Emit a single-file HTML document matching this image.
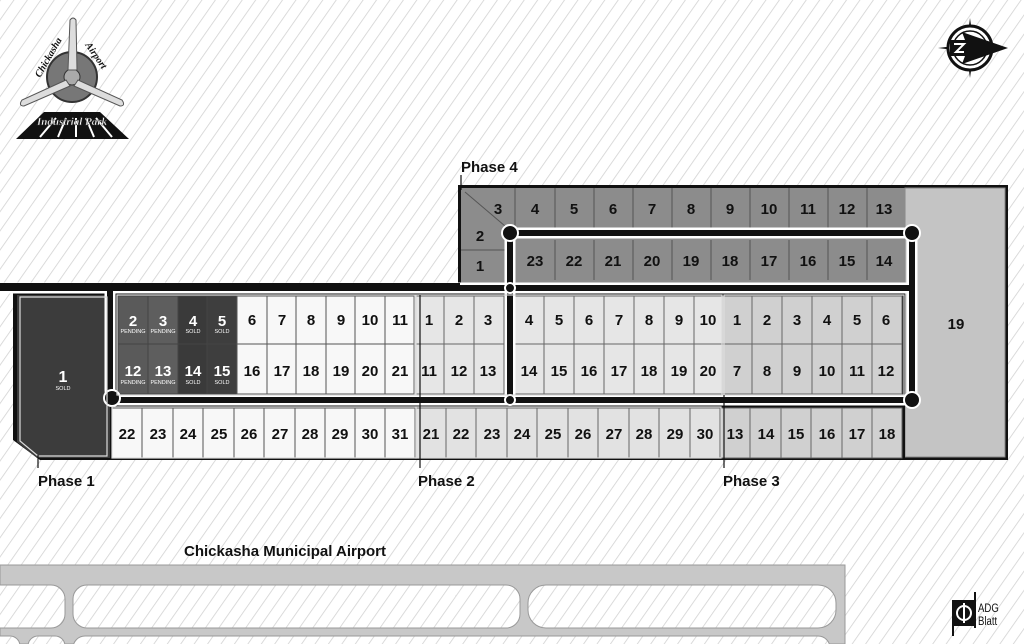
<!DOCTYPE html>
<html><head><meta charset="utf-8"><style>
html,body{margin:0;padding:0;background:#fff;}
svg{display:block;font-family:"Liberation Sans",Arial,sans-serif;}
</style></head><body>
<svg width="1024" height="644" viewBox="0 0 1024 644" xmlns="http://www.w3.org/2000/svg">
<defs>
<pattern id="h" width="11" height="11" patternUnits="userSpaceOnUse" patternTransform="rotate(35)">
<rect width="11" height="11" fill="#fff"/>
<line x1="0" y1="0" x2="0" y2="11" stroke="#d2d2d2" stroke-width="1.6"/>
</pattern>
</defs>
<rect width="1024" height="644" fill="url(#h)"/>

<!-- Airport bottom -->
<path d="M0 565 H845 V644 H0 Z" fill="#c8c8c8" stroke="#999" stroke-width="1"/>
<rect x="-20" y="585" width="85" height="43" rx="14" fill="url(#h)" stroke="#999"/>
<rect x="73" y="585" width="447" height="43" rx="14" fill="url(#h)" stroke="#999"/>
<rect x="528" y="585" width="308" height="43" rx="18" fill="url(#h)" stroke="#999"/>
<rect x="-20" y="636" width="40" height="30" rx="10" fill="url(#h)" stroke="#999"/>
<rect x="28" y="636" width="37" height="30" rx="10" fill="url(#h)" stroke="#999"/>
<rect x="73" y="636" width="757" height="30" rx="12" fill="url(#h)" stroke="#999"/>
<text x="184" y="556" font-size="15" font-weight="bold" fill="#111">Chickasha Municipal Airport</text>

<!-- Phase 4 block -->
<rect x="458" y="185" width="550" height="275" fill="#111"/>
<rect x="905" y="188" width="100" height="269" fill="#c4c4c4" stroke="#888"/>
<rect x="461" y="188" width="444" height="95" fill="#8c8c8c"/>
<g stroke="#555" stroke-width="1" fill="none">
<line x1="515" y1="188" x2="515" y2="228"/>
<line x1="461" y1="250" x2="505" y2="250"/>
<line x1="465" y1="192" x2="505" y2="226"/>
</g>
<g font-size="15" font-weight="bold" fill="#111" text-anchor="middle">
<text x="498" y="214">3</text><text x="480" y="241">2</text><text x="480" y="271">1</text>
</g>
<g stroke="#555" fill="none">
<line x1="555" y1="188" x2="555" y2="228"/><line x1="594" y1="188" x2="594" y2="228"/><line x1="633" y1="188" x2="633" y2="228"/>
<line x1="672" y1="188" x2="672" y2="228"/><line x1="711" y1="188" x2="711" y2="228"/><line x1="750" y1="188" x2="750" y2="228"/>
<line x1="789" y1="188" x2="789" y2="228"/><line x1="828" y1="188" x2="828" y2="228"/><line x1="867" y1="188" x2="867" y2="228"/>
<line x1="555" y1="240" x2="555" y2="280"/><line x1="594" y1="240" x2="594" y2="280"/><line x1="633" y1="240" x2="633" y2="280"/>
<line x1="672" y1="240" x2="672" y2="280"/><line x1="711" y1="240" x2="711" y2="280"/><line x1="750" y1="240" x2="750" y2="280"/>
<line x1="789" y1="240" x2="789" y2="280"/><line x1="828" y1="240" x2="828" y2="280"/><line x1="867" y1="240" x2="867" y2="280"/>
</g>
<g font-size="15" font-weight="bold" fill="#111" text-anchor="middle">
<text x="535" y="214">4</text><text x="574" y="214">5</text><text x="613" y="214">6</text><text x="652" y="214">7</text><text x="691" y="214">8</text><text x="730" y="214">9</text><text x="769" y="214">10</text><text x="808" y="214">11</text><text x="847" y="214">12</text><text x="884" y="214">13</text>
<text x="535" y="266">23</text><text x="574" y="266">22</text><text x="613" y="266">21</text><text x="652" y="266">20</text><text x="691" y="266">19</text><text x="730" y="266">18</text><text x="769" y="266">17</text><text x="808" y="266">16</text><text x="847" y="266">15</text><text x="884" y="266">14</text>
<text x="956" y="329">19</text>
</g>

<!-- Main block background -->
<path d="M13 290 H905 V460 H40 L13 440 Z" fill="#111"/>
<path d="M17 295 H110 V458 H37 L17 442 Z" fill="#3c3c3c"/>
<g stroke="#444" stroke-width="1">
<rect x="118" y="296" width="30" height="48" fill="#5a5a5a"/><rect x="148" y="296" width="30" height="48" fill="#5e5e5e"/>
<rect x="178" y="296" width="29" height="48" fill="#3a3a3a"/><rect x="207" y="296" width="30" height="48" fill="#3e3e3e"/>
<rect x="118" y="344" width="30" height="50" fill="#5a5a5a"/><rect x="148" y="344" width="30" height="50" fill="#5e5e5e"/>
<rect x="178" y="344" width="29" height="50" fill="#3a3a3a"/><rect x="207" y="344" width="30" height="50" fill="#3e3e3e"/>
</g>
<g stroke="#555" stroke-width="1" fill="#f8f8f8">
<rect x="237" y="296" width="30" height="48"/><rect x="267" y="296" width="29" height="48"/><rect x="296" y="296" width="30" height="48"/><rect x="326" y="296" width="29" height="48"/><rect x="355" y="296" width="30" height="48"/><rect x="385" y="296" width="29" height="48"/>
<rect x="237" y="344" width="30" height="50"/><rect x="267" y="344" width="29" height="50"/><rect x="296" y="344" width="30" height="50"/><rect x="326" y="344" width="29" height="50"/><rect x="355" y="344" width="30" height="50"/><rect x="385" y="344" width="29" height="50"/>
</g>
<g stroke="#666" stroke-width="1" fill="#e6e6e6">
<rect x="414" y="296" width="30" height="48"/><rect x="444" y="296" width="30" height="48"/><rect x="474" y="296" width="30" height="48"/>
<rect x="414" y="344" width="30" height="50"/><rect x="444" y="344" width="30" height="50"/><rect x="474" y="344" width="30" height="50"/>
<rect x="514" y="296" width="30" height="48"/><rect x="544" y="296" width="30" height="48"/><rect x="574" y="296" width="30" height="48"/><rect x="604" y="296" width="30" height="48"/><rect x="634" y="296" width="30" height="48"/><rect x="664" y="296" width="30" height="48"/><rect x="694" y="296" width="28" height="48"/>
<rect x="514" y="344" width="30" height="50"/><rect x="544" y="344" width="30" height="50"/><rect x="574" y="344" width="30" height="50"/><rect x="604" y="344" width="30" height="50"/><rect x="634" y="344" width="30" height="50"/><rect x="664" y="344" width="30" height="50"/><rect x="694" y="344" width="28" height="50"/>
</g>
<g stroke="#666" stroke-width="1" fill="#d0d0d0">
<rect x="722" y="296" width="30" height="48"/><rect x="752" y="296" width="30" height="48"/><rect x="782" y="296" width="30" height="48"/><rect x="812" y="296" width="30" height="48"/><rect x="842" y="296" width="30" height="48"/><rect x="872" y="296" width="30" height="48"/>
<rect x="722" y="344" width="30" height="50"/><rect x="752" y="344" width="30" height="50"/><rect x="782" y="344" width="30" height="50"/><rect x="812" y="344" width="30" height="50"/><rect x="842" y="344" width="30" height="50"/><rect x="872" y="344" width="30" height="50"/>
</g>
<g stroke="#555" stroke-width="1" fill="#f8f8f8">
<rect x="112" y="408" width="30" height="50"/><rect x="142" y="408" width="31" height="50"/><rect x="173" y="408" width="30" height="50"/><rect x="203" y="408" width="31" height="50"/><rect x="234" y="408" width="30" height="50"/><rect x="264" y="408" width="31" height="50"/><rect x="295" y="408" width="30" height="50"/><rect x="325" y="408" width="30" height="50"/><rect x="355" y="408" width="30" height="50"/><rect x="385" y="408" width="30" height="50"/>
</g>
<g stroke="#666" stroke-width="1" fill="#e2e2e2">
<rect x="415" y="408" width="31" height="50"/><rect x="446" y="408" width="30" height="50"/><rect x="476" y="408" width="31" height="50"/><rect x="507" y="408" width="30" height="50"/><rect x="537" y="408" width="31" height="50"/><rect x="568" y="408" width="30" height="50"/><rect x="598" y="408" width="31" height="50"/><rect x="629" y="408" width="30" height="50"/><rect x="659" y="408" width="31" height="50"/><rect x="690" y="408" width="30" height="50"/>
</g>
<g stroke="#666" stroke-width="1" fill="#d0d0d0">
<rect x="720" y="408" width="30" height="50"/><rect x="750" y="408" width="31" height="50"/><rect x="781" y="408" width="30" height="50"/><rect x="811" y="408" width="31" height="50"/><rect x="842" y="408" width="30" height="50"/><rect x="872" y="408" width="30" height="50"/>
</g>

<!-- roads -->
<g fill="none" stroke-linecap="round" stroke-linejoin="round">
<path d="M0 288 H912 M510 233 H912 V400 H120 Q110 400 110 390 V288 M510 233 V400" stroke="#fff" stroke-width="11"/>
<path d="M0 288 H912 M510 233 H912 V400 H120 Q110 400 110 390 V288 M510 233 V400" stroke="#111" stroke-width="6"/>
</g>
<g fill="#111" stroke="#fff" stroke-width="2">
<circle cx="510" cy="233" r="8"/><circle cx="912" cy="233" r="8"/><circle cx="912" cy="400" r="8"/><circle cx="510" cy="400" r="5"/><circle cx="510" cy="288" r="5"/><circle cx="112" cy="398" r="8"/>
</g>
<rect x="0" y="283" width="460" height="3" fill="#111"/>

<g fill="none" stroke="#ddd" stroke-width="1.2">
<path d="M20 297 H107 V456 H38 L20 441 Z"/>
<rect x="117" y="295" width="298" height="100"/>
<rect x="416" y="295" width="306" height="100"/>
<rect x="724" y="295" width="180" height="100"/>
<rect x="112" y="407" width="304" height="51"/>
<rect x="416" y="407" width="305" height="51"/>
</g>

<g font-size="15" font-weight="bold" text-anchor="middle" fill="#fff">
<text x="63" y="382" font-size="16">1</text>
<text x="133" y="326">2</text><text x="163" y="326">3</text><text x="193" y="326">4</text><text x="222" y="326">5</text>
<text x="133" y="376">12</text><text x="163" y="376">13</text><text x="193" y="376">14</text><text x="222" y="376">15</text>
</g>
<g font-size="5.5" text-anchor="middle" fill="#fff">
<text x="63" y="390">SOLD</text>
<text x="133" y="333">PENDING</text><text x="163" y="333">PENDING</text><text x="193" y="333">SOLD</text><text x="222" y="333">SOLD</text>
<text x="133" y="384">PENDING</text><text x="163" y="384">PENDING</text><text x="193" y="384">SOLD</text><text x="222" y="384">SOLD</text>
</g>
<g font-size="15" font-weight="bold" text-anchor="middle" fill="#111">
<text x="252" y="325">6</text><text x="282" y="325">7</text><text x="311" y="325">8</text><text x="341" y="325">9</text><text x="370" y="325">10</text><text x="400" y="325">11</text>
<text x="252" y="376">16</text><text x="282" y="376">17</text><text x="311" y="376">18</text><text x="341" y="376">19</text><text x="370" y="376">20</text><text x="400" y="376">21</text>
<text x="429" y="325">1</text><text x="459" y="325">2</text><text x="488" y="325">3</text>
<text x="429" y="376">11</text><text x="459" y="376">12</text><text x="488" y="376">13</text>
<text x="529" y="325">4</text><text x="559" y="325">5</text><text x="589" y="325">6</text><text x="619" y="325">7</text><text x="649" y="325">8</text><text x="679" y="325">9</text><text x="708" y="325">10</text>
<text x="529" y="376">14</text><text x="559" y="376">15</text><text x="589" y="376">16</text><text x="619" y="376">17</text><text x="649" y="376">18</text><text x="679" y="376">19</text><text x="708" y="376">20</text>
<text x="737" y="325">1</text><text x="767" y="325">2</text><text x="797" y="325">3</text><text x="827" y="325">4</text><text x="857" y="325">5</text><text x="886" y="325">6</text>
<text x="737" y="376">7</text><text x="767" y="376">8</text><text x="797" y="376">9</text><text x="827" y="376">10</text><text x="857" y="376">11</text><text x="886" y="376">12</text>
<text x="127" y="439">22</text><text x="158" y="439">23</text><text x="188" y="439">24</text><text x="219" y="439">25</text><text x="249" y="439">26</text><text x="280" y="439">27</text><text x="310" y="439">28</text><text x="340" y="439">29</text><text x="370" y="439">30</text><text x="400" y="439">31</text>
<text x="431" y="439">21</text><text x="461" y="439">22</text><text x="492" y="439">23</text><text x="522" y="439">24</text><text x="553" y="439">25</text><text x="583" y="439">26</text><text x="614" y="439">27</text><text x="644" y="439">28</text><text x="675" y="439">29</text><text x="705" y="439">30</text>
<text x="735" y="439">13</text><text x="766" y="439">14</text><text x="796" y="439">15</text><text x="827" y="439">16</text><text x="857" y="439">17</text><text x="887" y="439">18</text>
</g>

<g stroke="#111" stroke-width="1.2">
<line x1="38" y1="455" x2="38" y2="468"/><line x1="420" y1="295" x2="420" y2="468"/><line x1="724" y1="395" x2="724" y2="468"/><line x1="461" y1="175" x2="461" y2="190"/>
</g>
<g font-size="15" font-weight="bold" fill="#111">
<text x="38" y="486">Phase 1</text><text x="418" y="486">Phase 2</text><text x="723" y="486">Phase 3</text><text x="461" y="172">Phase 4</text>
</g>

<!-- logo top-left -->
<g>
<path d="M16 139 L44 112 H100 L129 139 Z" fill="#111"/>
<g stroke="#fff" stroke-width="2"><line x1="56" y1="118" x2="40" y2="137"/><line x1="66" y1="118" x2="58" y2="137"/><line x1="76" y1="118" x2="76" y2="137"/><line x1="86" y1="118" x2="94" y2="137"/><line x1="96" y1="118" x2="112" y2="137"/></g>
<text x="72" y="125" font-size="11" font-style="italic" font-weight="bold" fill="#fff" stroke="#333" stroke-width="0.4" text-anchor="middle" font-family="Liberation Serif,serif">Industrial Park</text>
<circle cx="72" cy="77" r="25" fill="#777" stroke="#333" stroke-width="2"/>
<circle cx="72" cy="77" r="8" fill="#aaa" stroke="#333"/>
<path d="M68 70 L70 20 Q73 16 76 20 L77 70 Z" fill="#ddd" stroke="#555"/>
<path d="M66 80 L22 100 Q18 106 24 106 L70 86 Z" fill="#ddd" stroke="#555"/>
<path d="M78 80 L122 100 Q126 106 120 106 L74 86 Z" fill="#ddd" stroke="#555"/>
<text x="40" y="78" font-size="10" font-style="italic" font-weight="bold" fill="#111" transform="rotate(-60 40 78)" font-family="Liberation Serif,serif">Chickasha</text>
<text x="85" y="45" font-size="10" font-style="italic" font-weight="bold" fill="#111" transform="rotate(55 85 45)" font-family="Liberation Serif,serif">Airport</text>
</g>

<!-- compass -->
<g transform="translate(970,48)">
<path d="M0 -30 L3 -8 L0 0 L-3 -8 Z M0 30 L3 8 L0 0 L-3 8 Z M-32 0 L-8 -3 L0 0 L-8 3 Z" fill="#111"/>
<circle r="22" fill="#fff" stroke="#111" stroke-width="3"/>
<circle r="17" fill="none" stroke="#111" stroke-width="1.5"/>
<path d="M-20 -8 H-5 L-8 -16 L38 0 L-8 16 L-5 8 H-20 Z" fill="#111"/>
<path d="M-16 -4 H-6 L-14 4 H-6" fill="none" stroke="#fff" stroke-width="2"/>
</g>

<!-- ADG Blatt -->
<g>
<rect x="953" y="600" width="22" height="26" fill="#111"/>
<circle cx="964" cy="613" r="7" fill="none" stroke="#fff" stroke-width="2"/>
<line x1="964" y1="603" x2="964" y2="623" stroke="#fff" stroke-width="2"/>
<line x1="953" y1="600" x2="953" y2="636" stroke="#111" stroke-width="2"/>
<line x1="975" y1="592" x2="975" y2="628" stroke="#111" stroke-width="2"/>
<text x="978" y="612" font-size="12" fill="#111" transform="scale(0.8 1)" style="transform-origin:978px 612px">ADG</text>
<text x="978" y="625" font-size="12" fill="#111" transform="scale(0.8 1)" style="transform-origin:978px 625px">Blatt</text>
</g>
</svg>
</body></html>
